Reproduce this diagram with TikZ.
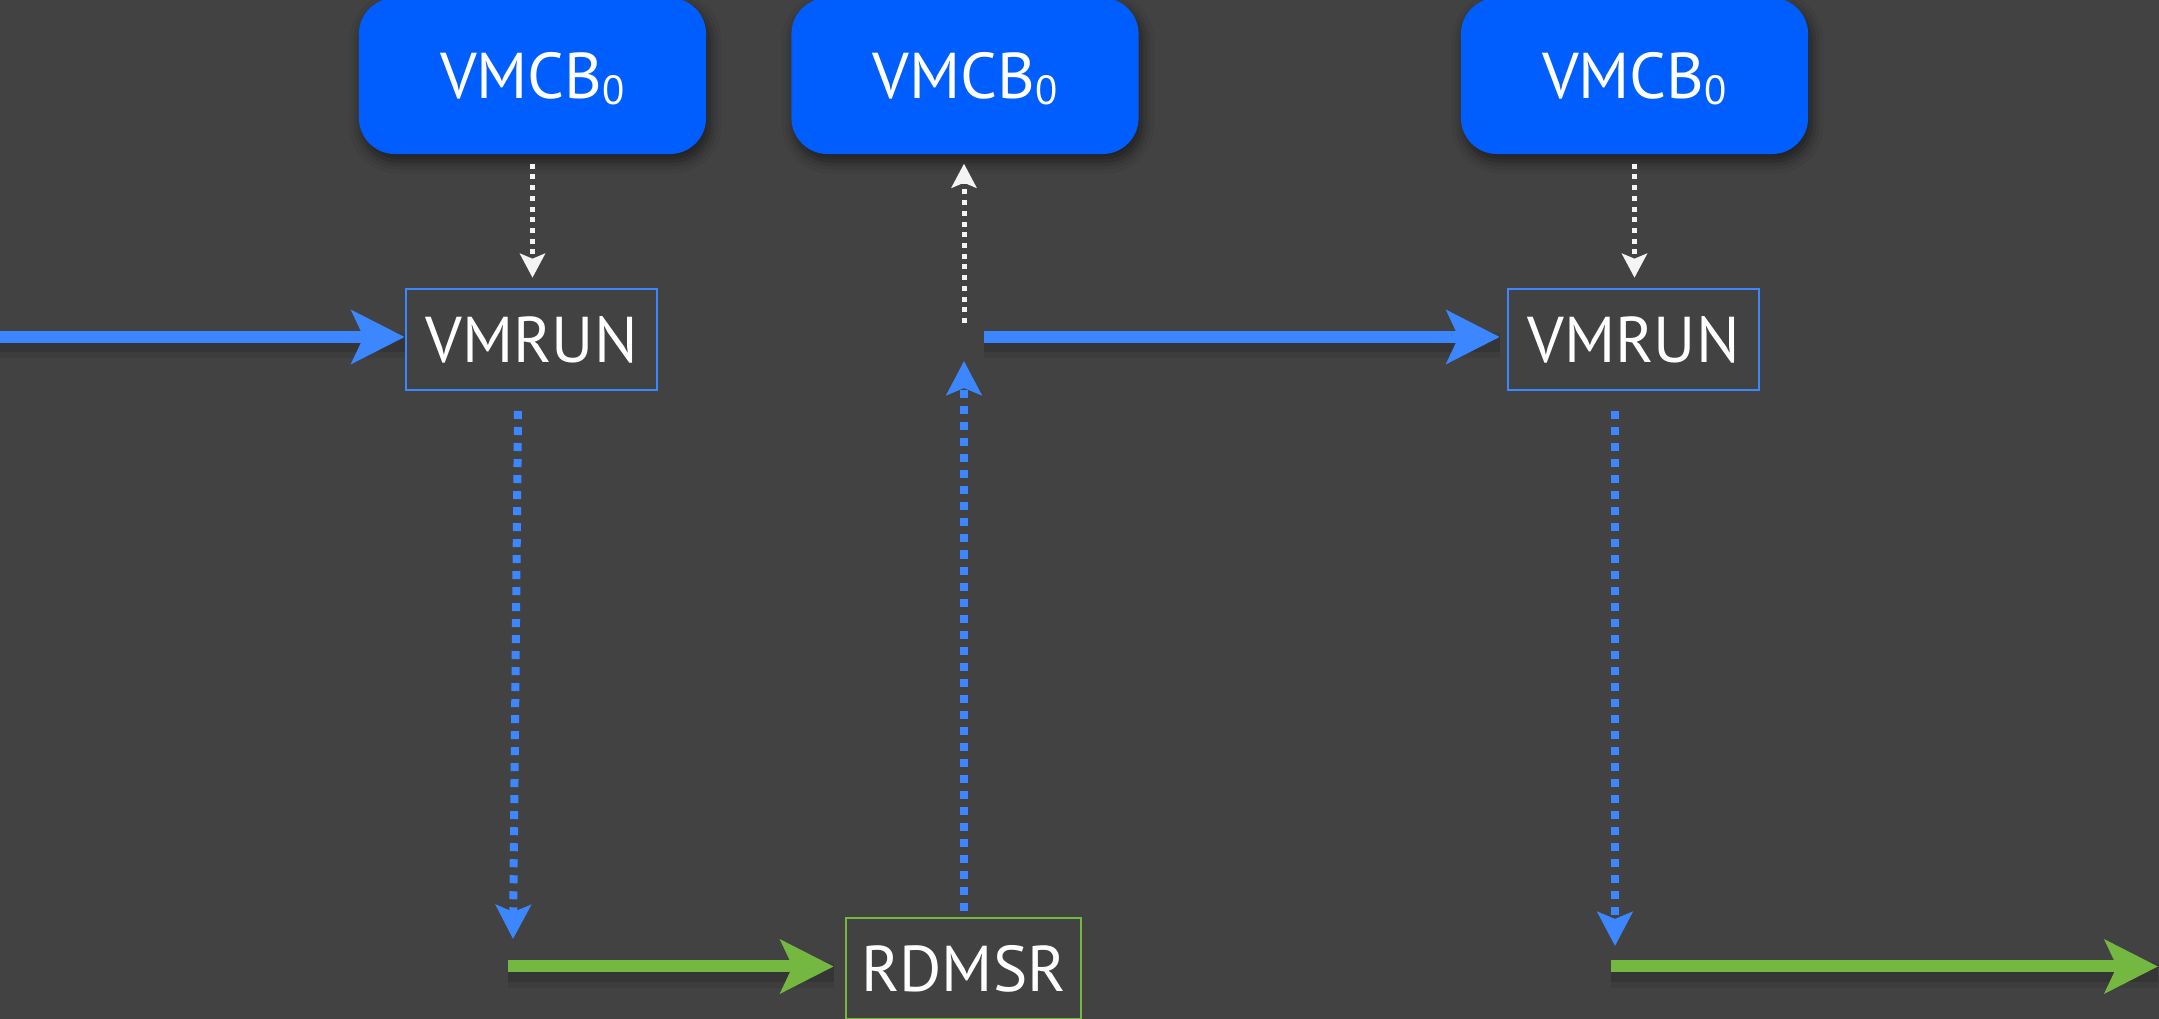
\documentclass[tikz,border=0pt]{standalone}
\usepackage{fontspec}
\setmainfont{PT Sans}
\usetikzlibrary{arrows.meta,shadows.blur}
\definecolor{bg}{HTML}{424242}
\definecolor{vmcb}{HTML}{005EFF}
\definecolor{ablue}{HTML}{3C87FF}
\definecolor{agreen}{HTML}{74B842}
\definecolor{awhite}{HTML}{F4F4F4}
\tikzset{
  vmcbbox/.style={fill=vmcb, rounded corners=0.36cm, minimum width=3.47cm, minimum height=1.56cm,
    inner sep=0pt, text=white, font=\fontsize{18.4}{20}\selectfont,
    blur shadow={shadow xshift=0.03cm, shadow yshift=-0.07cm, shadow blur radius=0.12cm, shadow opacity=55}},
  instr/.style={draw=#1, line width=0.025cm, fill=bg, minimum height=1.01cm, inner sep=0pt,
    text=white, font=\fontsize{18.4}{20}\selectfont},
  arrshadow/.style={
    preaction={draw=black, opacity=0.07, line width=0.26cm, transform canvas={yshift=-0.08cm}, -{}},
    preaction={draw=black, opacity=0.12, line width=0.16cm, transform canvas={yshift=-0.07cm}, -{}}},
  bigarrow/.style={color=#1, line width=0.12cm, -{Stealth[length=0.53cm, width=0.53cm, inset=0.12cm]}, arrshadow},
  bluedot/.style={color=ablue, line width=0.08cm, dash pattern=on 0.08cm off 0.08cm,
    -{Stealth[length=0.34cm, width=0.35cm, inset=0.07cm]}},
  whitedot/.style={color=awhite, line width=0.05cm, dash pattern=on 0.05cm off 0.057cm,
    -{Stealth[length=0.24cm, width=0.25cm, inset=0.05cm]}},
}
\newcommand{\vmcbtext}{VMCB\smash{\raisebox{-1.7pt}{\fontsize{11.6}{12}\selectfont 0}}}
\begin{document}
\begin{tikzpicture}[x=0.01cm, y=-0.01cm]
\fill[bg] (0,0) rectangle (2159,1019);
\useasboundingbox (0,0) rectangle (2159,1019);

% VMCB boxes
\node[vmcbbox] (c1) at (532.5,76) {\vmcbtext};
\node[vmcbbox] (c2) at (965,76) {\vmcbtext};
\node[vmcbbox] (c3) at (1634.5,76) {\vmcbtext};

% instruction boxes
\node[instr=ablue, minimum width=2.51cm] (v1) at (531.5,339.5) {VMRUN};
\node[instr=ablue, minimum width=2.51cm] (v3) at (1633.5,339.5) {VMRUN};
\node[instr=agreen, minimum width=2.35cm] (r) at (963.5,968.5) {RDMSR};

% coordinates
\coordinate (s1) at (0,337);
\coordinate (a1) at (518,411);
\coordinate (a2) at (513,939);
\coordinate (g1) at (508,966.5);
\coordinate (j) at (964,337);
\coordinate (b1) at (1615,411);
\coordinate (b2) at (1615,946);
\coordinate (g2) at (1611,966.5);
\coordinate (g3) at (2158,966.5);

% connectors
\draw[bigarrow=ablue] (s1) -- (s1 -| v1.west);
\draw[whitedot, shorten <=0.09cm, shorten >=0.1cm] (c1.south) -- (c1.south |- v1.north);
\draw[bluedot] (a1) -- (a2);
\draw[bigarrow=agreen, shorten >=0.11cm] (g1) -- (g1 -| r.west);

\draw[bluedot, shorten <=0.06cm, shorten >=0.24cm] (r.north -| j) -- (j);
\draw[whitedot, shorten <=0.14cm, shorten >=0.09cm] (j) -- (j |- c2.south);
\draw[bigarrow=ablue, shorten <=0.2cm, shorten >=0.07cm] (j) -- (j -| v3.west);

\draw[whitedot, shorten <=0.09cm, shorten >=0.1cm] (c3.south) -- (c3.south |- v3.north);
\draw[bluedot] (b1) -- (b2);
\draw[bigarrow=agreen] (g2) -- (g3);
\end{tikzpicture}
\end{document}
